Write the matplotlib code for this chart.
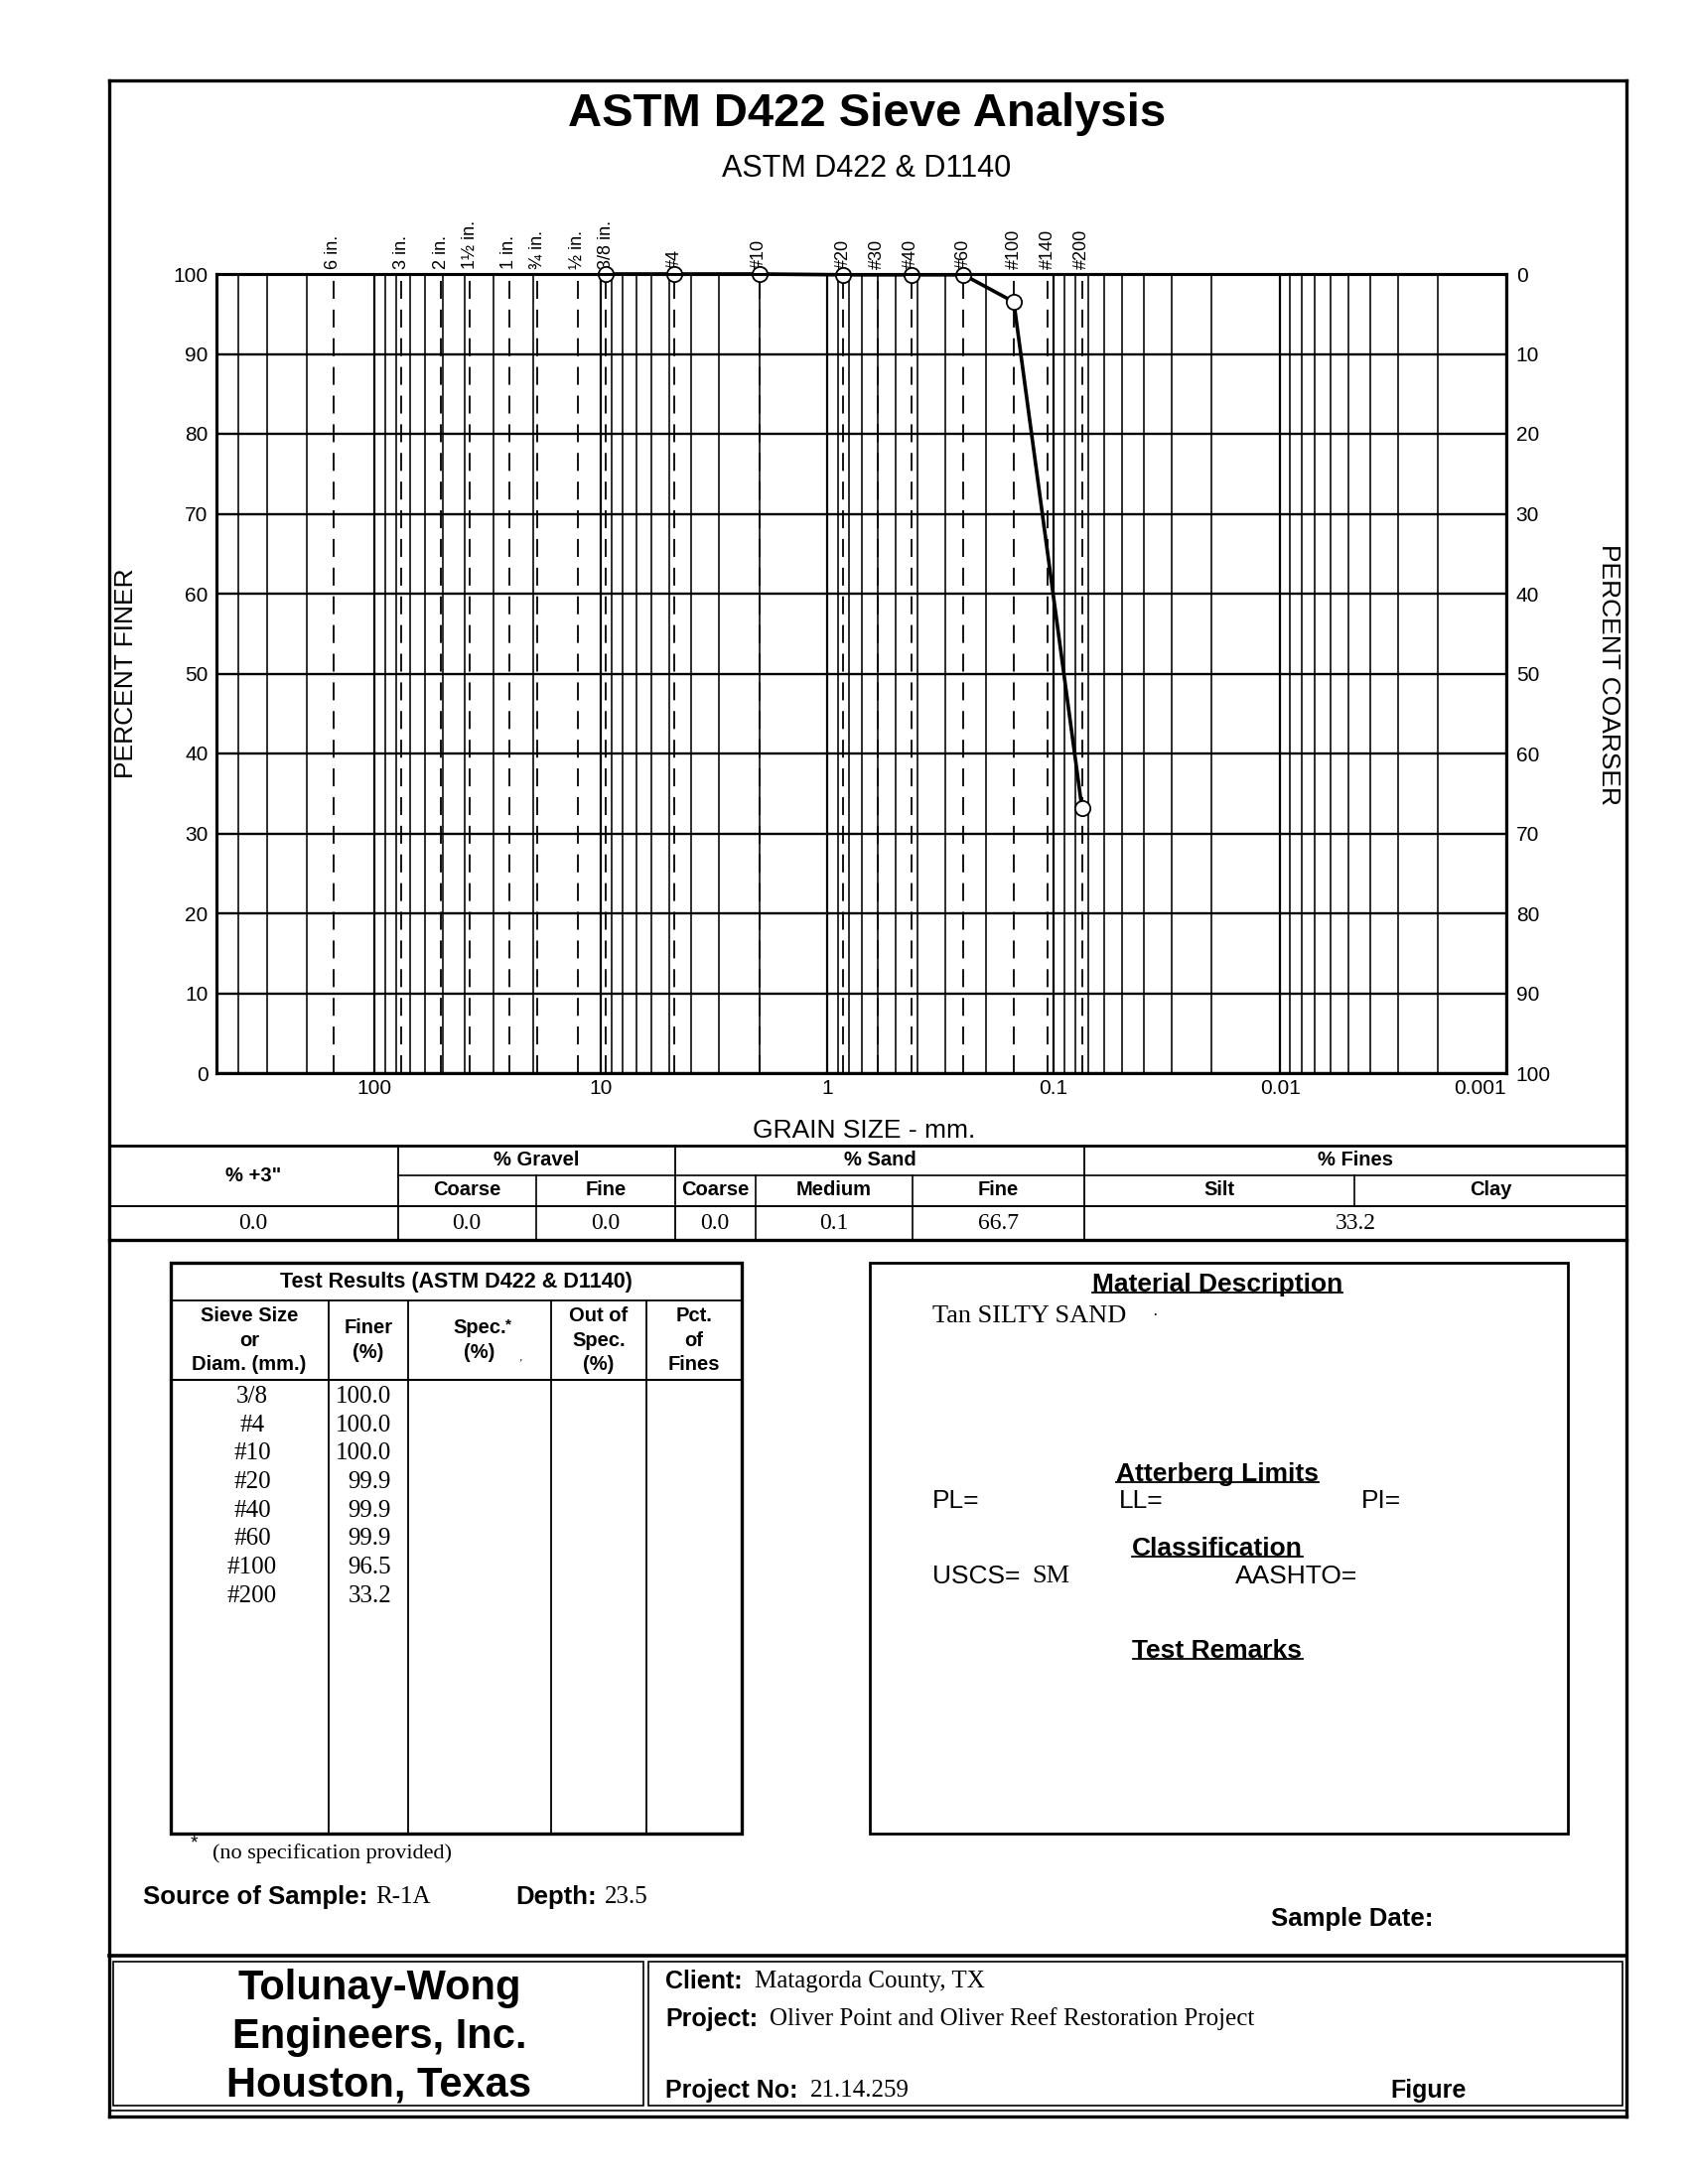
import matplotlib
matplotlib.use('Agg')
import matplotlib.pyplot as plt
from matplotlib.ticker import LogLocator, NullFormatter
import numpy as np

SANS = 'Liberation Sans'
SERIF = 'Liberation Serif'
plt.rcParams['font.family'] = SANS

# sieve openings marked along the top of the chart
sieve_names = ['6 in.', '3 in.', '2 in.', '1½ in.', '1 in.', '¾ in.', '½ in.', '3/8 in.',
               '#4', '#10', '#20', '#30', '#40', '#60', '#100', '#140', '#200']
sieve_mm = [152.4, 76.2, 50.8, 38.1, 25.4, 19.05, 12.7, 9.525,
            4.75, 2.0, 0.85, 0.6, 0.425, 0.25, 0.15, 0.106, 0.075]

# test results
test_sieves = ['3/8', '#4', '#10', '#20', '#40', '#60', '#100', '#200']
test_mm = [9.525, 4.75, 2.0, 0.85, 0.425, 0.25, 0.15, 0.075]
test_finer = [100.0, 100.0, 100.0, 99.9, 99.9, 99.9, 96.5, 33.2]

grain_ticks = [100, 10, 1, 0.1, 0.01, 0.001]
grain_labels = ['100', '10', '1', '0.1', '0.01', '0.001']
pct_ticks = list(range(0, 101, 10))

# gradation summary
summary_heads = ['% +3"', '% Gravel', '% Sand', '% Fines']
summary_subs = ['Coarse', 'Fine', 'Coarse', 'Medium', 'Fine', 'Silt', 'Clay']
summary_vals = ['0.0', '0.0', '0.0', '0.0', '0.1', '66.7', '33.2']

W, H = 1704, 2200
fig = plt.figure(figsize=(W / 100, H / 100), dpi=100)
fig.patch.set_facecolor('white')

# page overlay in pixel coords (y down)
pg = fig.add_axes([0, 0, 1, 1])
pg.set_xlim(0, W)
pg.set_ylim(H, 0)
pg.axis('off')

renderer = fig.canvas.get_renderer()


def line(x0, y0, x1, y1, lw=1.5):
    pg.plot([x0, x1], [y0, y1], color='k', lw=lw, solid_capstyle='projecting')


def txt(x, y, s, size, bold=False, serif=False, ha='left', va='center', **kw):
    return pg.text(x, y, s, fontsize=size, fontweight='bold' if bold else 'normal',
                   family=SERIF if serif else SANS, ha=ha, va=va, **kw)


def width(t):
    return t.get_window_extent(renderer=renderer).width


def underlined(x, y, s, size):
    t = txt(x, y, s, size, bold=True, ha='center')
    bb = t.get_window_extent(renderer=renderer)
    uy = H - bb.y0 - 4
    line(bb.x0, uy, bb.x1, uy, lw=1.3)
    return t


def pair(x, y, label, value, size_l, size_v, gap=8):
    t = txt(x, y, label, size_l, bold=True)
    txt(x + width(t) + gap, y, value, size_v, serif=True)


# ---- outer frame
line(110, 81, 1638, 81, lw=2.4)
line(110, 81, 110, 2132, lw=2.4)
line(1638, 81, 1638, 2132, lw=2.4)
line(110, 2126, 1638, 2126, lw=1.2)
line(110, 2132, 1638, 2132, lw=2.4)

# ---- titles
txt(873, 115, 'ASTM D422 Sieve Analysis', 34, bold=True, ha='center')
txt(873, 170, 'ASTM D422 & D1140', 22, ha='center')

# ---- grain size chart
L, T, R, B = 218, 276, 1517, 1081
ax = fig.add_axes([L / W, 1 - B / H, (R - L) / W, (B - T) / H])
ax.set_xscale('log')
ax.set_xlim(500, 0.001)
ax.set_ylim(0, 100)
ax.set_xticks(grain_ticks, grain_labels[:-1] + [''])
ax.xaxis.set_minor_locator(LogLocator(base=10, subs=np.arange(2, 10), numticks=30))
ax.xaxis.set_minor_formatter(NullFormatter())
ax.set_yticks(pct_ticks)
ax.grid(which='major', axis='x', color='k', lw=1.6)
ax.grid(which='minor', axis='x', color='k', lw=1.15)
ax.grid(which='major', axis='y', color='k', lw=1.7)
ax.tick_params(which='both', length=0)
ax.tick_params(axis='x', pad=4, labelsize=15)
ax.tick_params(axis='y', pad=6, labelsize=15)
for sp in ax.spines.values():
    sp.set_linewidth(2.2)
ax.text(0.001, -0.007, grain_labels[-1], transform=ax.get_xaxis_transform(),
        ha='right', va='top', fontsize=15)

ax2 = ax.twinx()
ax2.set_ylim(100, 0)
ax2.set_yticks(pct_ticks)
ax2.tick_params(length=0, pad=7, labelsize=15)
for sp in ax2.spines.values():
    sp.set_linewidth(2.2)

for name, d in zip(sieve_names, sieve_mm):
    ax.axvline(d, color='k', lw=1.3, ls=(0, (10, 6)))
    ax.text(d, 1.006, name, transform=ax.get_xaxis_transform(), rotation=90,
            ha='center', va='bottom', fontsize=13)

ax.plot(test_mm, test_finer, color='k', lw=2.6, marker='o', ms=11,
        mfc='white', mec='k', mew=1.3, clip_on=False, zorder=5)

txt(870, 1139, 'GRAIN SIZE - mm.', 19, ha='center')
txt(127, 678, 'PERCENT FINER', 19, ha='center', rotation=90)
txt(1620, 679, 'PERCENT COARSER', 19, ha='center', rotation=270)

# ---- gradation summary table
line(110, 1154, 1638, 1154, lw=2.0)
line(401, 1184, 1638, 1184, lw=1.2)
line(110, 1215, 1638, 1215, lw=1.4)
line(110, 1249, 1638, 1249, lw=2.4)
for x in (401, 680, 1092):
    line(x, 1154, x, 1249, lw=1.3)
for x in (540, 761, 919):
    line(x, 1184, x, 1249, lw=1.2)
line(1364, 1184, 1364, 1215, lw=1.2)

head_x = [255, 540, 886, 1365]
head_y = [1184, 1169, 1169, 1169]
for s, x, y in zip(summary_heads, head_x, head_y):
    txt(x, y, s, 14.5, bold=True, ha='center')
sub_x = [470, 610, 720, 840, 1005, 1228, 1501]
for s, x in zip(summary_subs, sub_x):
    txt(x, 1199, s, 14.5, bold=True, ha='center')
val_x = [255, 470, 610, 720, 840, 1005, 1365]
for s, x in zip(summary_vals, val_x):
    txt(x, 1232, s, 17, serif=True, ha='center')

# ---- test results table
tx0, tx1, ty0, ty1 = 172, 747, 1272, 1847
pg.add_patch(plt.Rectangle((tx0, ty0), tx1 - tx0, ty1 - ty0, fill=False, lw=2.4, ec='k'))
line(tx0, 1310, tx1, 1310, lw=1.3)
line(tx0, 1390, tx1, 1390, lw=1.5)
for x in (331, 411, 555, 651):
    line(x, 1310, x, ty1, lw=1.3)
txt(459, 1291, 'Test Results (ASTM D422 & D1140)', 15.5, bold=True, ha='center')
col_heads = ['Sieve Size\nor\nDiam. (mm.)', 'Finer\n(%)', 'Spec.\n(%)', 'Out of\nSpec.\n(%)', 'Pct.\nof\nFines']
col_x = [251, 371, 483, 603, 699]
for s, x in zip(col_heads, col_x):
    txt(x, 1350, s, 14.5, bold=True, ha='center', linespacing=1.35)
txt(509, 1334, '*', 11, bold=True)
txt(523, 1368, ',', 9)
for i, (s, f) in enumerate(zip(test_sieves, test_finer)):
    y = 1407 + i * 28.7
    txt(254, y, s, 18, serif=True, ha='center')
    txt(394, y, f'{f:.1f}', 18, serif=True, ha='right')

txt(192, 1857, '*', 14)
txt(214, 1867, '(no specification provided)', 16, serif=True)

# ---- material description box
pg.add_patch(plt.Rectangle((876, 1272), 1579 - 876, 1847 - 1272, fill=False, lw=2.0, ec='k'))
underlined(1226, 1294, 'Material Description', 19)
txt(939, 1326, 'Tan SILTY SAND', 19, serif=True)
txt(1160, 1326, '·', 12, serif=True)
underlined(1226, 1485, 'Atterberg Limits', 19)
txt(939, 1512, 'PL=', 19)
txt(1127, 1512, 'LL=', 19)
txt(1371, 1512, 'PI=', 19)
underlined(1226, 1560, 'Classification', 19)
t = txt(939, 1588, 'USCS=', 19)
txt(939 + width(t) + 12, 1588, 'SM', 19, serif=True)
txt(1244, 1588, 'AASHTO=', 19)
underlined(1226, 1663, 'Test Remarks', 19)

# ---- sample info
pair(144, 1911, 'Source of Sample:', 'R-1A', 18.5, 18)
pair(519, 1911, 'Depth:', '23.5', 18.5, 18)
txt(1280, 1933, 'Sample Date:', 18.5, bold=True)

# ---- title block
line(110, 1970, 1638, 1970, lw=2.6)
pg.add_patch(plt.Rectangle((114, 1976), 648 - 114, 2121 - 1976, fill=False, lw=1.2, ec='k'))
pg.add_patch(plt.Rectangle((653, 1976), 1634 - 653, 2121 - 1976, fill=False, lw=1.2, ec='k'))
for s, y in zip(['Tolunay-Wong', 'Engineers, Inc.', 'Houston, Texas'], [2003, 2052, 2101]):
    txt(382, y, s, 30, bold=True, ha='center')
pair(670, 1996, 'Client:', 'Matagorda County, TX', 18, 18, gap=12)
pair(670, 2034, 'Project:', 'Oliver Point and Oliver Reef Restoration Project', 18, 18, gap=12)
pair(670, 2106, 'Project No:', '21.14.259', 18, 18, gap=12)
txt(1400, 2106, 'Figure', 18, bold=True)

fig.savefig('out.png', dpi=100)
